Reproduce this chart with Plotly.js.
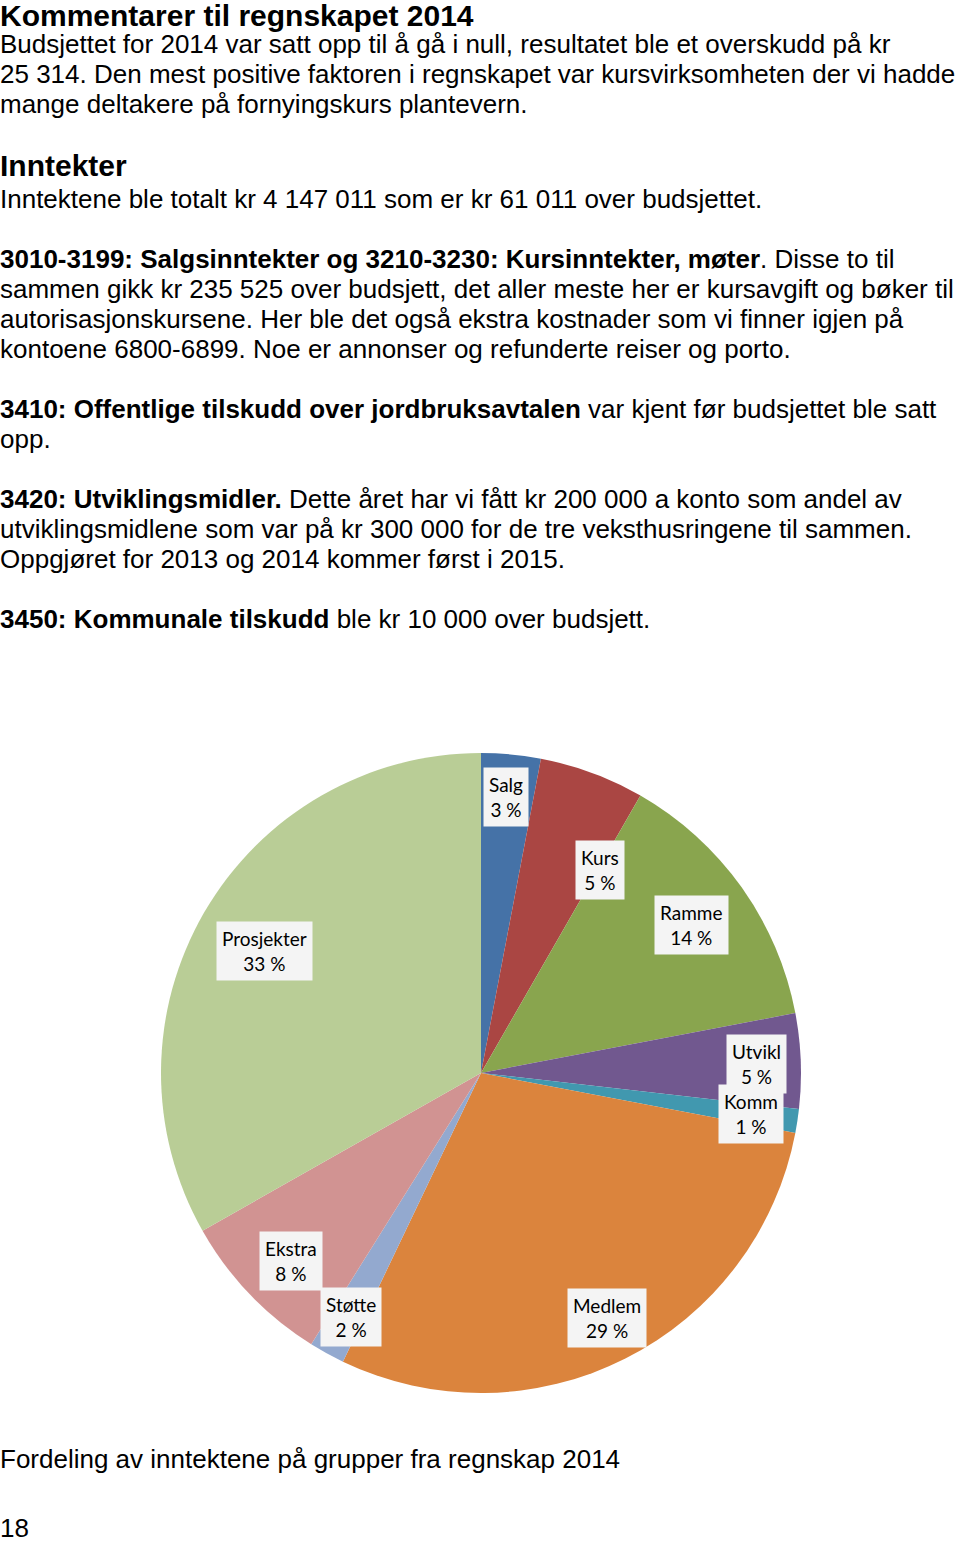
<!DOCTYPE html>
<html>
<head>
<meta charset="utf-8">
<script src="https://cdn.plot.ly/plotly-3.0.1.min.js"></script>
<style>
  html, body { margin: 0; padding: 0; background: #ffffff; }
  #chart { width: 960px; height: 1544px; }
</style>
</head>
<body>
<div id="chart"></div>
<script>
// ---------- data ----------
const categories = ["Salg", "Kurs", "Ramme", "Utvikl", "Komm", "Medlem", "Støtte", "Ekstra", "Prosjekter"];
const shares = [3.0, 5.3, 13.7, 4.8, 1.2, 29.1, 1.8, 7.9, 33.2];
const sliceColors = ["#4572A7", "#AA4643", "#89A54E", "#71588F", "#4198AF", "#DB843D", "#93A9CF", "#D19392", "#B9CD96"];

const headingText = "Kommentarer til regnskapet 2014";
const introLines = [
  "Budsjettet for 2014 var satt opp til å gå i null, resultatet ble et overskudd på kr",
  "25 314. Den mest positive faktoren i regnskapet var kursvirksomheten der vi hadde",
  "mange deltakere på fornyingskurs plantevern."
];
const sectionTitle = "Inntekter";
const bodyLines = [
  "Inntektene ble totalt kr 4 147 011 som er kr 61 011 over budsjettet.",
  "",
  "<b>3010-3199: Salgsinntekter og 3210-3230: Kursinntekter, møter</b>. Disse to til",
  "sammen gikk kr 235 525 over budsjett, det aller meste her er kursavgift og bøker til",
  "autorisasjonskursene. Her ble det også ekstra kostnader som vi finner igjen på",
  "kontoene 6800-6899. Noe er annonser og refunderte reiser og porto.",
  "",
  "<b>3410: Offentlige tilskudd over jordbruksavtalen</b> var kjent før budsjettet ble satt",
  "opp.",
  "",
  "<b>3420: Utviklingsmidler.</b> Dette året har vi fått kr 200 000 a konto som andel av",
  "utviklingsmidlene som var på kr 300 000 for de tre veksthusringene til sammen.",
  "Oppgjøret for 2013 og 2014 kommer først i 2015.",
  "",
  "<b>3450: Kommunale tilskudd</b> ble kr 10 000 over budsjett."
];
const captionText = "Fordeling av inntektene på grupper fra regnskap 2014";
const pageNumber = "18";

// ---------- layout helpers ----------
const W = 960, H = 1544;
const py = p => 1 - p / H;
const bodyFont = { family: "Liberation Sans, Arial, sans-serif", size: 26, color: "#000000" };
const headFont = { family: "Liberation Sans, Arial, sans-serif", size: 30, color: "#000000" };

const pie = { cx: 481, cy: 1073, r: 320 };
const labelRadius = 0.84;
const labelNudge = { // pixel nudges (x right, y down)
  "Salg": [0, -8], "Kurs": [26, 49], "Ramme": [-8, 8], "Utvikl": [7, 1], "Komm": [4, 1],
  "Medlem": [5, 5], "Støtte": [-1, 8], "Ekstra": [4, 2], "Prosjekter": [16, 13]
};

const annotations = [];
function textLine(txt, y, font) {
  annotations.push({
    text: txt, xref: "paper", yref: "paper", x: 0, y: py(y), xshift: -2,
    xanchor: "left", yanchor: "middle", showarrow: false, font: font, align: "left"
  });
}
textLine("<b>" + headingText + "</b>", 15, headFont);
introLines.forEach((t, i) => textLine(t, 44 + 30 * i, bodyFont));
textLine("<b>" + sectionTitle + "</b>", 166, headFont);
bodyLines.forEach((t, i) => { if (t) textLine(t, 199 + 30 * i, bodyFont); });
textLine(captionText, 1459, bodyFont);
textLine(pageNumber, 1528, bodyFont);

// slice labels computed from data
const total = shares.reduce((a, b) => a + b, 0);
let cum = 0;
categories.forEach((c, i) => {
  const mid = (cum + shares[i] / 2) / total * 2 * Math.PI;
  cum += shares[i];
  const nx = labelNudge[c] || [0, 0];
  const x = pie.cx + labelRadius * pie.r * Math.sin(mid) + nx[0];
  const y = pie.cy - labelRadius * pie.r * Math.cos(mid) + nx[1];
  annotations.push({
    text: c + "<br>" + Math.round(shares[i] / total * 100) + " %",
    xref: "paper", yref: "paper", x: x / W, y: py(y),
    xanchor: "center", yanchor: "middle", showarrow: false,
    font: { family: "Lato, Open Sans, sans-serif", size: 19, color: "#000000" },
    bgcolor: "#F4F4F4", borderpad: 5, align: "center"
  });
});

const trace = {
  type: "pie",
  labels: categories,
  values: shares,
  sort: false,
  direction: "clockwise",
  rotation: 0,
  textinfo: "none",
  hoverinfo: "label+percent",
  marker: { colors: sliceColors, line: { width: 0 } },
  domain: { x: [(pie.cx - pie.r) / W, (pie.cx + pie.r) / W], y: [py(pie.cy + pie.r), py(pie.cy - pie.r)] },
  showlegend: false
};

const layout = {
  width: W, height: H,
  margin: { l: 0, r: 0, t: 0, b: 0 },
  paper_bgcolor: "#ffffff",
  plot_bgcolor: "#ffffff",
  showlegend: false,
  annotations: annotations
};

Plotly.newPlot("chart", [trace], layout, { displayModeBar: false, staticPlot: true });
</script>
</body>
</html>
